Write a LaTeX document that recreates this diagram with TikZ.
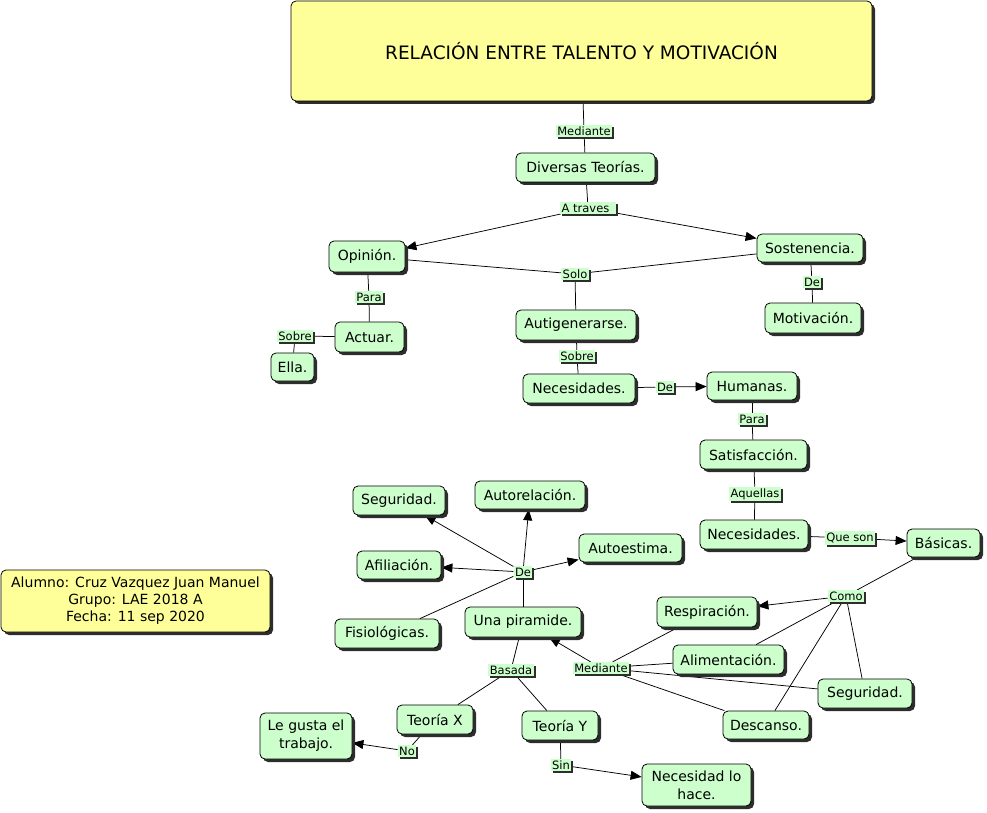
\documentclass[tikz,border=0pt]{standalone}
\usepackage{fontspec}
\setmainfont{DejaVu Sans}
\usetikzlibrary{arrows.meta,shadows,backgrounds}
\definecolor{cmgreen}{RGB}{204,255,204}
\definecolor{cmyellow}{RGB}{255,255,153}
\definecolor{shd}{RGB}{45,45,45}
\begin{document}
\begin{tikzpicture}[x=1pt,y=-1pt,
  concept/.style={draw=black, line width=0.8pt, fill=cmgreen, rounded corners=5pt,
    align=center, inner sep=0pt, font=\fontsize{14}{18}\selectfont,
    drop shadow={shadow xshift=3pt,shadow yshift=-3pt,fill=shd,opacity=1}},
  titlebox/.style={concept, fill=cmyellow},
  lbl/.style={fill=cmgreen, inner xsep=1.5pt, inner ysep=1.5pt,
    font=\fontsize{11.5}{13}\selectfont,
    drop shadow={shadow xshift=2pt,shadow yshift=-2pt,fill=shd,opacity=1}},
  sz/.style 2 args={minimum width=#1pt, minimum height=#2pt},
  link/.style={draw=black, line width=0.75pt},
  arr/.style={link, -{Triangle[length=11pt,width=9pt]}},
]
\useasboundingbox (0,0) rectangle (987,813);

% concepts
\node[titlebox, sz={581}{100}, font=\fontsize{18.5}{21}\selectfont] (title) at (581.5,51) {RELACIÓN ENTRE TALENTO Y MOTIVACIÓN};
\node[concept, sz={139}{29}] (diversas) at (585.5,167.5) {Diversas Teorías.};
\node[concept, sz={76}{31}] (opinion) at (367,256.5) {Opinión.};
\node[concept, sz={106}{28}] (sosten) at (810,248) {Sostenencia.};
\node[concept, sz={120}{30}] (autig) at (576,325) {Autigenerarse.};
\node[concept, sz={96}{30}] (motiv) at (813,318) {Motivación.};
\node[concept, sz={69}{30}] (actuar) at (369.5,337) {Actuar.};
\node[concept, sz={43}{28}] (ella) at (292.5,367) {Ella.};
\node[concept, sz={112}{29}] (neces1) at (579,388.5) {Necesidades.};
\node[concept, sz={90}{28}] (humanas) at (752,386) {Humanas.};
\node[concept, sz={107}{29}] (satisf) at (753.5,454.5) {Satisfacción.};
\node[concept, sz={108}{29}] (neces2) at (754,534.5) {Necesidades.};
\node[concept, sz={73}{28}] (basicas) at (943.5,543) {Básicas.};
\node[concept, sz={100}{30}] (resp) at (707,612) {Respiración.};
\node[concept, sz={111}{29}] (alim) at (728.5,659.5) {Alimentación.};
\node[concept, sz={94}{29}] (segR) at (865,693.5) {Seguridad.};
\node[concept, sz={86}{28}] (descanso) at (766,725) {Descanso.};
\node[concept, sz={116}{30}] (piramide) at (523,622) {Una piramide.};
\node[concept, sz={92}{29}] (segL) at (399,500.5) {Seguridad.};
\node[concept, sz={110}{28}] (autorel) at (530,495) {Autorelación.};
\node[concept, sz={103}{28}] (autoest) at (630.5,548) {Autoestima.};
\node[concept, sz={84}{28}] (afil) at (399,565) {Afiliación.};
\node[concept, sz={104}{29}] (fisio) at (387,633.5) {Fisiológicas.};
\node[concept, sz={76}{29}] (teoX) at (435,719.5) {Teoría X};
\node[concept, sz={76}{29}] (teoY) at (560,725.5) {Teoría Y};
\node[concept, sz={92}{46}] (legusta) at (306,736) {Le gusta el\\trabajo.};
\node[concept, sz={109}{42}] (necesidad) at (696.5,785) {Necesidad lo\\hace.};
\node[titlebox, sz={269}{62}, font=\fontsize{14}{17}\selectfont] (alumno) at (135.5,601) {Alumno: Cruz Vazquez Juan Manuel\\Grupo: LAE 2018 A\\Fecha: 11 sep 2020};

% linking phrases
\node[lbl] (lmed1) at (584,131) {Mediante};
\node[lbl] (latr) at (588,208) {A traves\kern5pt};
\node[lbl] (lsolo) at (575,274) {Solo};
\node[lbl] (lde1) at (812,282) {De};
\node[lbl] (lpara1) at (369,297) {Para};
\node[lbl] (lsobre1) at (295,336) {Sobre};
\node[lbl] (lsobre2) at (577,356) {Sobre};
\node[lbl] (lde2) at (665,387) {De};
\node[lbl] (lpara2) at (752,419) {Para};
\node[lbl] (laquellas) at (755,494) {Aquellas};
\node[lbl] (lqueson) at (850,538) {Que son};
\node[lbl] (lcomo) at (846,596) {Como};
\node[lbl] (lmed2) at (601,668) {Mediante};
\node[lbl] (lde3) at (523,572) {De};
\node[lbl] (lbasada) at (511,670) {Basada};
\node[lbl] (lno) at (407,751) {No};
\node[lbl] (lsin) at (561,765) {Sin};

\begin{pgfonlayer}{background}
\draw[link] (title) -- (lmed1);
\draw[link] (lmed1) -- (diversas);
\draw[link] (diversas) -- (latr);
\draw[arr] (latr) -- (opinion);
\draw[arr] (latr) -- (sosten);
\draw[link] (opinion) -- (lsolo);
\draw[link] (sosten) -- (lsolo);
\draw[link] (lsolo) -- (autig);
\draw[link] (sosten) -- (lde1);
\draw[link] (lde1) -- (motiv);
\draw[link] (opinion) -- (lpara1);
\draw[link] (lpara1) -- (actuar);
\draw[link] (actuar) -- (lsobre1);
\draw[link] (lsobre1) -- (ella);
\draw[link] (autig) -- (lsobre2);
\draw[link] (lsobre2) -- (neces1);
\draw[link] (neces1) -- (lde2);
\draw[arr] (lde2) -- (humanas);
\draw[link] (humanas) -- (lpara2);
\draw[link] (lpara2) -- (satisf);
\draw[link] (satisf) -- (laquellas);
\draw[link] (laquellas) -- (neces2);
\draw[link] (neces2) -- (lqueson);
\draw[arr] (lqueson) -- (basicas);
\draw[link] (basicas) -- (lcomo);
\draw[arr] (lcomo) -- (resp);
\draw[link] (lcomo) -- (alim);
\draw[link] (lcomo) -- (segR);
\draw[link] (lcomo) -- (descanso);
\draw[link] (resp) -- (lmed2);
\draw[link] (alim) -- (lmed2);
\draw[link] (segR) -- (lmed2);
\draw[link] (descanso) -- (lmed2);
\draw[arr] (lmed2) -- (piramide);
\draw[link] (piramide) -- (lde3);
\draw[arr] (lde3) -- (segL);
\draw[arr] (lde3) -- (autorel);
\draw[arr] (lde3) -- (autoest);
\draw[arr] (lde3) -- (afil);
\draw[link] (lde3) -- (fisio);
\draw[link] (piramide) -- (lbasada);
\draw[link] (lbasada) -- (teoX);
\draw[link] (lbasada) -- (teoY);
\draw[link] (teoX) -- (lno);
\draw[arr] (lno) -- (legusta);
\draw[link] (teoY) -- (lsin);
\draw[arr] (lsin) -- (necesidad);
\end{pgfonlayer}
\end{tikzpicture}
\end{document}
